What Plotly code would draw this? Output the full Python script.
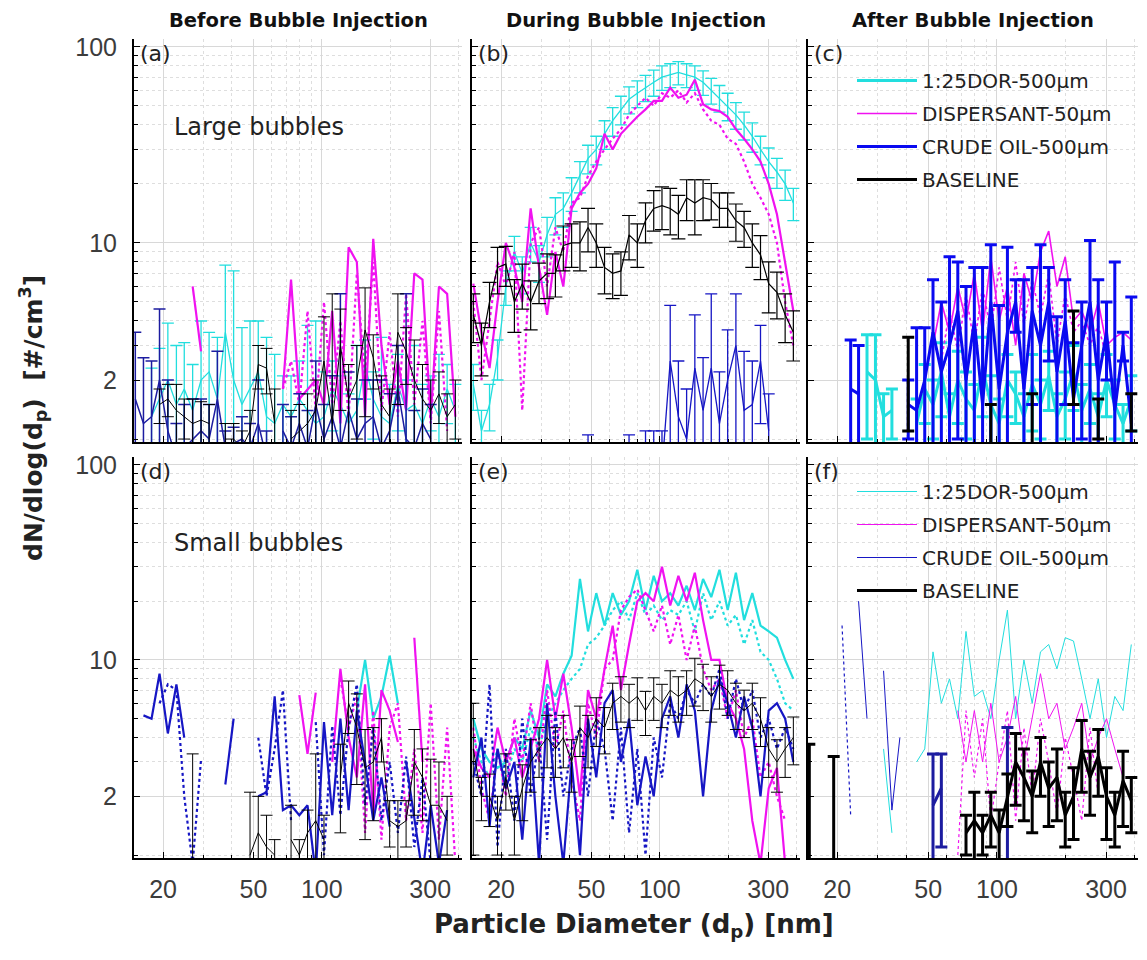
import plotly.graph_objects as go

# Particle diameter bins [nm]
diam = [15.1, 16.4, 17.8, 19.3, 21.0, 22.9, 24.8, 27.0, 29.4, 31.9,
        34.7, 37.6, 40.9, 44.5, 48.3, 52.5, 57.1, 62.0, 67.4, 73.2,
        79.6, 86.5, 94.0, 102.2, 111.1, 120.7, 131.2, 142.6, 155.0, 168.4,
        183.0, 198.9, 216.2, 234.9, 255.3, 277.4, 301.5, 327.7, 356.1, 387.0]

N = None
col_titles = ["Before Bubble Injection", "During Bubble Injection", "After Bubble Injection"]
panel_labels = ["(a)", "(b)", "(c)", "(d)", "(e)", "(f)"]
series_names = ["1:25DOR-500μm", "DISPERSANT-50μm", "CRUDE OIL-500μm", "BASELINE"]
x_ticks = [20, 50, 100, 300]
y_ticks = [2, 10, 100]

# ---------------- (a) before, large bubbles ----------------
a_cyan = [N, N, 1.3, 1.6, 2.0, 1.5, 1.8, 1.4, 2.0, 2.2, 1.6, 3.5, 2.0, 1.5, 1.8, 2.2, 1.3, 1.2, 1.5, 1.3,
          1.6, 1.4, 1.2, 1.3, 1.8, 1.5, 1.2, 1.4, 2.4, 1.6, 1.3, 1.2, 1.9, 1.4, 1.5, 1.2, 1.6, 1.3, 1.8, 1.4]
a_cyan_err = [0, 0, 1.0, 1.3, 1.9, 1.5, 1.3, 1.0, 2.0, 1.3, 1.7, 4.2, 5.2, 2.2, 2.2, 1.8, 2.0, 1.5, 0.6, 0.8,
              0.9, 2.4, 2.8, 0.9, 0.7, 0.6, 0.5, 1.6, 0.8, 0.6, 2.0, 0.7, 0.8, 0.6, 1.5, 0.7, 0.5, 1.4, 0.6, 0.5]
a_mag = [N, N, N, N, N, N, N, 6.0, 2.8, N, N, N, N, N, N, N, N, N, 1.8, 6.5,
         1.6, 1.8, 2.0, 1.5, 4.5, 1.2, 9.5, 8.0, 1.3, 10.5, 3.0, 1.5, 2.5, 1.4, 7.0, 6.5, 1.3, 6.0, 5.5, 1.3]
a_mag_dot = [N, N, N, N, N, N, N, N, N, N, N, N, N, N, N, N, N, N, 1.8, 2.5,
             1.5, 4.5, 1.4, 5.0, 1.5, 4.0, 1.3, 7.0, 2.0, 8.0, 1.4, 3.5, 1.3, 5.5, 1.5, 4.0, 1.2, 4.5, 1.1, N]
a_blue = [1.6, 1.2, 1.3, 2.0, 1.1, 0.8, 0.9, 1.0, 1.1, 1.0, 1.6, 0.9, 0.95, 1.0, 0.9, 1.2, 0.8, N, 1.1, 0.9,
          1.2, 0.9, 1.5, 1.0, 1.3, 0.9, 1.4, 1.0, 1.2, 1.3, 0.9, 1.1, 1.8, 1.0, 0.9, 1.2, 1.0, N, N, N]
a_blue_err = [1.9, 1.4, 1.2, 2.6, 0.9, 0.4, 0.6, 0.6, 0.5, 0.5, 1.2, 0.2, 0.2, 0.3, 0.3, 0.8, 0.3, 0, 0.4, 0.4,
              0.5, 0.5, 1.0, 0.5, 0.8, 4.6, 0.8, 0.6, 0.8, 0.7, 1.1, 0.6, 1.2, 4.5, 0.5, 0.6, 0.5, 0, 0, 0]
a_black = [N, N, N, 1.5, 1.6, 1.4, 1.3, 1.2, 1.25, 1.2, N, 1.0, 1.0, 0.9, 1.1, 2.4, 2.3, 1.2, N, 1.0,
           1.1, 1.2, 1.4, 2.5, 1.2, 3.0, 1.6, 2.0, 3.6, 2.6, 1.5, 1.3, 3.5, 2.8, 2.0, 1.6, 1.4, 1.7, 1.3, 1.5]
a_black_err = [0, 0, 0, 0.3, 0.3, 0.5, 0.3, 0.4, 0.3, 0.3, 0, 0.2, 0.2, 0.2, 0.3, 0.6, 0.6, 0.6, 0, 0.4,
               0.4, 0.5, 0.6, 1.7, 4.3, 1.6, 0.8, 1.0, 2.3, 0.8, 0.6, 0.5, 2.0, 0.9, 1.2, 0.8, 0.6, 0.5, 0.4, 0.5]

# ---------------- (b) during, large bubbles ----------------
b_cyan = [1.9, 1.1, 1.5, 2.6, 6.0, 9.0, 7.0, 10.0, 8.0, 11.0, 14.0, 15.0, 18.0, 22.0, 27.0, 30.0, 36.0, 42.0, 48.0, 54.0,
          58.0, 62.0, 66.0, 70.0, 72.0, 74.0, 72.0, 70.0, 66.0, 60.0, 55.0, 50.0, 45.0, 40.0, 35.0, 30.0, 26.0, 23.0, 20.0, 16.0]
b_cyan_err = [0.5, 0.3, 0.4, 0.6, 1.2, 1.8, 1.5, 2.0, 1.7, 2.5, 3.0, 3.0, 3.5, 4.0, 4.5, 5.0, 6.0, 7.0, 8.0, 8.5,
              9.0, 9.5, 10.0, 10.0, 10.0, 10.0, 10.0, 10.0, 9.5, 9.0, 8.5, 8.0, 7.0, 6.5, 6.0, 5.0, 4.5, 4.0, 3.5, 3.0]
b_mag = [6.2, 3.5, 2.3, 5.0, 10.0, 7.5, 5.0, 15.0, 7.5, 4.3, 9.0, 6.0, 15.0, 18.0, 20.0, 24.0, 36.0, 30.0, 36.0, 40.0,
         44.0, 48.0, 53.0, 53.0, 62.0, 55.0, 57.0, 68.0, 51.0, 48.0, 47.0, 44.0, 38.0, 34.0, 30.0, 26.0, 20.0, 14.0, 8.0, 4.5]
b_mag_dot = [5.0, 2.0, 4.0, 8.0, 6.0, 9.0, 1.4, 10.0, 12.0, 6.0, 12.0, 9.0, 16.0, 17.0, 22.0, 26.0, 30.0, 34.0, 38.0, 45.0,
             50.0, 55.0, 50.0, 58.0, 55.0, 60.0, 52.0, 58.0, 48.0, 42.0, 40.0, 34.0, 32.0, 26.0, 20.0, 17.0, 14.0, 10.0, 5.0, 3.0]
b_blue = [N, N, N, N, N, N, N, N, N, N, N, N, N, N, 0.6, N, N, N, N, 0.6,
          N, 0.7, 0.7, 0.7, 2.5, 1.3, 1.0, 2.3, 1.4, 2.3, 1.2, 2.0, 3.0, 1.4, 1.5, 2.5, 1.1, N, N, N]
b_blue_err = [0, 0, 0, 0, 0, 0, 0, 0, 0, 0, 0, 0, 0, 0, 0.45, 0, 0, 0, 0, 0.45,
              0, 0.4, 0.4, 0.4, 2.3, 1.2, 0.8, 2.0, 1.2, 3.2, 1.0, 1.6, 2.5, 1.4, 1.0, 1.3, 0.6, 0, 0, 0]
b_black = [4.3, 3.0, 5.0, 7.5, 7.8, 5.0, 6.2, 5.0, 6.4, 7.0, 7.0, 9.7, 10.0, 10.0, 12.0, 10.0, 7.5, 7.0, 7.2, 11.0,
           10.0, 13.0, 15.0, 15.5, 15.0, 14.0, 17.0, 16.0, 17.0, 16.6, 15.0, 15.0, 13.0, 12.0, 10.0, 8.7, 6.2, 5.6, 4.3, 3.5]
b_black_err = [1.2, 0.9, 1.3, 2.0, 1.8, 1.5, 1.6, 1.4, 1.5, 1.8, 1.7, 2.5, 2.5, 2.8, 3.0, 2.5, 2.0, 1.8, 1.8, 2.8,
               2.5, 3.0, 3.5, 3.8, 4.0, 3.5, 4.0, 5.0, 4.0, 3.5, 3.0, 3.0, 2.8, 2.5, 2.5, 2.2, 1.8, 1.5, 1.2, 1.0]

# ---------------- (c) after, large bubbles ----------------
c_cyan = [N, N, N, N, N, N, N, 2.2, 2.0, 1.3, 1.4, N, N, 1.2, 1.8, 1.5, 2.2, 1.3, 2.0, 1.6,
          1.4, 2.3, 1.5, 1.2, 2.0, 1.7, 1.3, 1.9, 1.5, 2.1, 1.3, 1.6, 2.2, 1.4, 1.8, 1.3, 2.0, 1.5, 1.2, 1.6]
c_cyan_err = [0, 0, 0, 0, 0, 0, 0, 1.2, 1.4, 0.4, 0.4, 0, 0, 0.4, 0.6, 0.5, 0.9, 0.4, 0.8, 0.6,
              0.5, 1.0, 0.6, 0.4, 0.7, 0.5, 0.4, 0.8, 0.5, 0.7, 0.4, 0.6, 0.8, 0.5, 0.6, 0.4, 0.7, 0.5, 0.3, 0.5]
c_mag = [N, N, N, N, N, N, N, N, N, N, N, N, N, N, N, 3.0, 5.0, 3.5, 6.0, 4.0,
         7.0, 3.5, 8.5, 4.0, 6.0, 3.0, 7.0, 5.0, 9.0, 11.5, 6.0, 8.5, 4.0, 4.5, 3.5, 5.0, 3.0, 3.3, 3.5, 3.2]
c_mag_dot = [N, N, N, N, N, N, N, N, N, N, N, N, N, N, N, N, 2.5, 4.5, 2.8, 5.5,
             3.0, 6.0, 3.5, 7.5, 4.0, 8.0, 3.8, 6.5, 4.2, 7.0, 3.0, 5.5, 3.5, 4.0, 3.0, 3.8, 2.6, N, N, N]
c_blue = [N, N, N, N, N, 1.8, 1.7, N, N, N, N, N, 1.5, 1.4, 2.0, 3.5, 2.2, 3.0, 4.5, 2.0,
          4.0, 1.5, 5.0, 1.8, 3.5, 5.0, 1.8, 4.5, 3.0, 5.0, 2.2, 4.0, 1.6, 3.0, 5.0, 2.0, 3.5, 1.4, 3.0, 1.2]
c_blue_err = [0, 0, 0, 0, 0, 1.4, 1.3, 0, 0, 0, 0, 0, 0.5, 2.3, 1.7, 3.0, 2.8, 5.5, 3.5, 4.0,
              3.5, 6.0, 4.8, 3.0, 6.0, 1.5, 4.7, 3.0, 6.8, 2.5, 2.0, 2.5, 1.5, 2.0, 5.3, 4.5, 1.5, 6.6, 0.5, 4.1]
c_black = [N, N, N, N, N, N, N, N, N, N, N, N, 2.2, N, N, N, N, N, N, N,
           N, N, 1.2, N, N, N, N, 1.3, N, N, N, N, 3.0, N, N, 1.3, N, N, N, 1.4]
c_black_err = [0, 0, 0, 0, 0, 0, 0, 0, 0, 0, 0, 0, 1.1, 0, 0, 0, 0, 0, 0, 0,
               0, 0, 0.3, 0, 0, 0, 0, 0.4, 0, 0, 0, 0, 1.5, 0, 0, 0.3, 0, 0, 0, 0.3]

# ---------------- (d) before, small bubbles ----------------
d_cyan = [N, N, N, N, N, N, N, N, N, N, N, N, N, N, N, N, N, N, N, N,
          N, N, N, N, N, N, N, 5.5, 10.0, 5.0, 6.5, 10.5, 6.0, N, N, N, N, N, N, N]
d_mag = [N, N, N, N, N, N, N, N, N, N, N, N, N, N, N, N, N, N, N, N,
         6.6, 3.3, 6.8, N, 3.0, 9.0, 4.0, 2.5, 7.5, 1.6, 7.0, 5.5, 3.8, N, 13.0, 3.0, N, N, N, N]
d_mag_dot = [N, N, N, N, N, N, N, N, N, N, N, N, N, N, N, N, N, N, N, N,
             N, N, N, N, N, 8.0, 4.5, 6.5, 1.3, 5.5, 1.2, 4.5, 6.0, 1.5, 3.5, 1.3, 6.0, 1.2, 4.5, 0.9]
d_blue = [N, 5.2, 5.0, 8.5, 4.2, 7.5, 4.0, N, N, N, N, 2.3, 5.0, N, N, 2.0, 2.1, 6.5, 1.7, 1.8,
          1.6, 1.8, 0.8, 4.8, 1.6, 5.0, 1.7, 5.5, 3.0, 1.5, 2.5, 1.4, N, 3.0, 1.5, 0.8, 1.8, 0.9, 1.7, N]
d_blue_dot = [N, N, N, 6.0, 7.5, 7.0, 2.0, 0.9, 3.1, N, N, N, N, N, N, 4.0, 2.0, 3.5, 7.0, 1.5,
              N, N, 4.8, 1.0, 4.6, 1.6, 4.5, 7.5, 1.8, 4.5, 1.5, 3.0, 1.3, 3.2, 1.1, 2.5, 0.9, N, N, N]
d_black = [N, N, N, N, N, N, N, 1.0, N, N, N, N, N, N, 1.0, 1.3, 1.1, 1.0, N, 1.2,
           1.0, 1.3, 1.5, 1.2, N, 2.5, 6.0, 4.5, 2.8, 3.0, 4.0, 1.5, 1.4, 1.5, 3.0, 2.5, 1.8, 1.8, 1.5, N]
d_black_err = [0, 0, 0, 0, 0, 0, 0, 2.3, 0, 0, 0, 0, 0, 0, 1.1, 0.7, 0.5, 0.2, 0, 0.6,
               0.2, 0.4, 1.8, 0.4, 0, 1.2, 1.8, 2.2, 1.6, 1.5, 1.0, 0.4, 0.5, 0.4, 1.4, 1.0, 1.3, 1.2, 0.5, 0]

# ---------------- (e) during, small bubbles ----------------
e_cyan = [5.0, 3.5, 3.0, 2.8, 3.0, 4.0, 3.5, 5.5, 4.0, 7.5, 6.5, 8.5, 10.5, 26.0, 14.0, 22.0, 15.0, 22.0, 17.0, 20.0,
          29.0, 18.0, 27.0, 20.0, 22.0, 19.0, 24.0, 18.0, 26.0, 21.0, 29.0, 18.0, 28.0, 16.0, 22.0, 15.0, 14.0, 13.0, 10.0, 8.0]
e_cyan_dot = [4.0, 3.0, 2.5, 3.5, 2.5, 3.5, 3.0, 4.5, 3.5, 5.0, 6.0, 7.0, 8.0, 9.0, 12.0, 13.0, 15.0, 18.0, 20.0, 16.0,
              22.0, 17.0, 19.0, 16.0, 18.0, 17.0, 20.0, 14.0, 22.0, 16.0, 20.0, 15.0, 17.0, 12.0, 16.0, 11.0, 10.0, 8.0, 6.0, 5.5]
e_mag = [3.5, 2.8, 2.5, 4.5, 3.0, 4.0, 2.5, 3.5, 5.0, 10.0, 5.0, 8.5, 4.5, 2.0, 7.0, 5.0, 9.0, 15.0, 7.0, 12.0,
         20.0, 22.0, 20.0, 30.0, 19.0, 27.0, 20.0, 28.0, 16.0, 10.0, 10.0, 6.0, 5.0, 3.5, 1.5, 0.9, 2.2, 2.8, 0.9, N]
e_mag_dot = [4.5, 2.2, 1.5, 3.5, 2.0, 5.0, 3.0, 6.0, 3.0, 7.0, 3.5, 5.5, 2.5, 1.5, 6.0, 4.0, 9.0, 10.0, 18.0, 21.0,
             23.0, 18.0, 14.0, 19.0, 12.0, 17.0, 10.0, 15.0, 9.0, 7.0, 8.0, 5.0, 7.0, 4.0, 5.0, 2.5, 3.0, 2.0, 1.5, N]
e_blue = [2.5, 4.0, 1.4, 3.5, 2.2, 3.0, 1.2, 4.0, 0.9, 6.0, 2.0, 0.9, 3.0, 1.0, 5.0, 2.5, 6.0, 7.0, 3.0, 5.0,
          1.8, 3.2, 2.0, 5.0, 6.5, 4.0, 7.5, 5.5, 2.0, 5.5, 8.0, 6.0, 4.0, 6.5, 4.5, 2.0, 5.5, 6.0, 5.0, 3.0]
e_blue_dot = [3.0, 2.0, 7.5, 1.1, 3.5, 1.5, 5.0, 2.0, 4.0, 1.2, 5.5, 2.0, 3.5, 4.5, 2.0, 5.0, 3.5, 1.5, 4.5, 1.3,
              3.5, 1.0, 4.0, 2.5, 6.0, 5.0, 7.0, 6.0, 7.5, 6.5, 9.0, 5.0, 8.0, 5.5, 7.0, 4.0, 5.0, 3.5, 4.5, 3.5]
e_black = [3.5, 2.0, 2.0, 1.5, 2.5, 1.5, 2.2, 3.0, 3.5, 4.0, 3.5, 4.0, 3.0, 4.5, 4.0, 5.0, 4.5, 6.0, 6.5, 6.0,
           6.5, 5.5, 6.5, 6.0, 7.0, 6.5, 7.0, 8.0, 7.5, 6.5, 7.5, 7.0, 6.0, 5.5, 6.0, 5.0, 3.5, 3.0, 3.5, 4.0]
e_black_err = [2.5, 0.5, 0.6, 0.5, 0.8, 0.5, 0.7, 0.9, 1.0, 1.2, 1.0, 1.2, 0.9, 1.3, 1.2, 1.4, 1.2, 1.6, 1.7, 1.5,
               1.6, 1.4, 1.6, 1.5, 1.8, 1.7, 1.8, 2.2, 2.0, 1.7, 1.9, 1.8, 1.6, 1.5, 1.6, 1.4, 1.0, 0.9, 1.0, 1.1]

# ---------------- (f) after, small bubbles ----------------
f_cyan = [N, N, N, N, N, N, N, N, N, 3.5, 1.3, N, N, 3.0, 3.5, 11.0, 6.0, 8.0, 5.0, 14.0,
          6.5, 7.0, 5.0, 10.0, 18.0, 5.0, 10.0, 6.0, 11.0, 12.0, 9.0, 13.0, 12.5, 8.0, 5.0, 8.0, 4.0, 6.5, 5.5, 12.0]
f_mag = [N, N, N, N, N, N, N, N, N, N, N, N, N, N, N, N, N, N, 5.5, 3.0,
         5.5, 3.0, 6.0, 3.0, 4.0, 6.5, 3.0, 5.0, 8.5, 5.0, 6.0, 3.5, 4.5, 6.0, 3.0, 4.0, 5.0, 3.5, 2.5, N]
f_mag_dot = [N, N, N, N, N, N, N, N, N, N, N, N, N, N, N, N, N, N, 1.0, 5.5,
             2.5, 5.0, 1.5, 3.0, 5.5, 1.5, 4.5, 2.0, 5.0, 3.0, 1.6, 4.0, 2.5, 1.5, 4.5, 2.0, N, N, N, N]
f_blue = [N, N, N, N, N, N, 20.0, 5.0, N, 8.8, 1.7, 4.0, N, N, N, N, N, N, N, N,
          N, N, N, N, N, N, N, N, N, N, N, N, N, N, N, N, N, N, N, N]
f_blue_dot = [N, N, N, N, 15.0, 1.6, N, N, N, N, N, N, N, N, N, N, N, N, N, N,
              N, N, N, N, N, N, N, N, N, N, N, N, N, N, N, N, N, N, N, N]
f_blue_bar = [N, N, N, N, N, N, N, N, N, N, N, N, N, N, N, 1.8, 2.2, N, N, N,
              N, N, N, N, 2.5, N, N, N, N, N, N, N, N, N, N, N, N, N, N, N]
f_blue_bar_err = [0, 0, 0, 0, 0, 0, 0, 0, 0, 0, 0, 0, 0, 0, 0, 1.5, 1.1, 0, 0, 0,
                  0, 0, 0, 0, 2.0, 0, 0, 0, 0, 0, 0, 0, 0, 0, 0, 0, 0, 0, 0, 0]
f_black = [2.2, N, N, 1.9, N, N, N, N, N, N, N, N, N, N, N, N, N, N, N, 1.3,
           1.5, 1.3, 1.6, 1.3, 2.0, 3.0, 2.5, 2.0, 3.0, 2.2, 2.5, 1.6, 2.0, 3.5, 2.5, 3.2, 2.0, 1.6, 2.4, 1.9]
f_black_err = [1.5, 0, 0, 1.3, 0, 0, 0, 0, 0, 0, 0, 0, 0, 0, 0, 0, 0, 0, 0, 0.3,
               0.6, 0.3, 0.5, 0.4, 0.6, 1.2, 1.0, 0.7, 1.0, 0.8, 1.0, 0.5, 0.8, 1.4, 0.9, 1.2, 0.8, 0.5, 1.0, 0.6]

# ---------------- styling ----------------
CYAN = "#22dede"
MAG = "#f012f0"
BLUE = "#1616c4"
BLUE_C = "#0a0af0"
NAVY = "#1c1ca0"
BLACK = "#000000"
FONT = "Liberation Sans, Arial, sans-serif"
WIDE = "DejaVu Sans, sans-serif"

fig = go.Figure()


def add(ax, y, color, width, dash="solid", err=None, cap=6, ethick=None,
        legend=None, name=None, group=None):
    tr = dict(x=diam, y=y, mode="lines", xaxis="x" + ax, yaxis="y" + ax,
              line=dict(color=color, width=width, dash=dash),
              connectgaps=False, hoverinfo="skip", showlegend=False)
    if err is not None:
        lo = [0 if v is None else min(e, v * 0.97) for v, e in zip(y, err)]
        tr["error_y"] = dict(type="data", array=err, arrayminus=lo, visible=True,
                             color=color, thickness=ethick or width, width=cap)
    if legend is not None:
        tr.update(showlegend=True, legend=legend, name=name, legendgroup=group)
    fig.add_trace(go.Scatter(**tr))


# (a)
add("", a_cyan, CYAN, 1.3, err=a_cyan_err, cap=6)
add("", a_mag_dot, MAG, 2.2, dash="dot")
add("", a_mag, MAG, 2.2)
add("", a_blue, NAVY, 1.5, err=a_blue_err, cap=6)
add("", a_black, BLACK, 1.0, err=a_black_err, cap=6)
# (b)
add("2", b_cyan, CYAN, 1.3, err=b_cyan_err, cap=6)
add("2", b_mag_dot, MAG, 2.2, dash="dot")
add("2", b_mag, MAG, 2.2)
add("2", b_blue, BLUE, 1.3, err=b_blue_err, cap=6)
add("2", b_black, BLACK, 1.2, err=b_black_err, cap=7)
# (c)
add("3", c_cyan, CYAN, 3.0, err=c_cyan_err, cap=6,
    legend="legend", name=series_names[0], group="c1")
add("3", c_mag_dot, MAG, 1.6, dash="dot")
add("3", c_mag, MAG, 1.6, legend="legend", name=series_names[1], group="c2")
add("3", c_blue, BLUE_C, 3.0, err=c_blue_err, cap=6,
    legend="legend", name=series_names[2], group="c3")
add("3", c_black, BLACK, 3.0, err=c_black_err, cap=6,
    legend="legend", name=series_names[3], group="c4")
# (d)
add("4", d_cyan, CYAN, 2.2)
add("4", d_mag_dot, MAG, 2.2, dash="dot")
add("4", d_mag, MAG, 2.2)
add("4", d_blue_dot, BLUE, 2.2, dash="dot")
add("4", d_blue, BLUE, 2.2)
add("4", d_black, BLACK, 1.0, err=d_black_err, cap=6)
# (e)
add("5", e_cyan_dot, CYAN, 2.2, dash="dot")
add("5", e_cyan, CYAN, 2.2)
add("5", e_mag_dot, MAG, 2.2, dash="dot")
add("5", e_mag, MAG, 2.2)
add("5", e_blue_dot, BLUE, 2.2, dash="dot")
add("5", e_blue, BLUE, 2.2)
add("5", e_black, BLACK, 1.0, err=e_black_err, cap=6)
# (f)
add("6", f_cyan, CYAN, 1.0, legend="legend2", name=series_names[0], group="f1")
add("6", f_mag_dot, MAG, 1.2, dash="dot")
add("6", f_mag, MAG, 1.0, legend="legend2", name=series_names[1], group="f2")
add("6", f_blue_dot, BLUE, 1.2, dash="dot")
add("6", f_blue, BLUE, 1.0, legend="legend2", name=series_names[2], group="f3")
add("6", f_blue_bar, NAVY, 3.0, err=f_blue_bar_err, cap=6)
add("6", f_black, BLACK, 3.0, err=f_black_err, cap=6,
    legend="legend2", name=series_names[3], group="f4")

# ---------------- layout ----------------
# page body adds an 8px offset; target plot area on screen: x 134..1138, y 39..858
OFF = 8
SX0, SX1, SY0, SY1 = 134, 1138, 39, 858
W, H = 1147, 960
L, T = SX0 - OFF, SY0 - OFF
R, B = W - (SX1 - OFF), H - (SY1 - OFF)
pw, ph = SX1 - SX0, SY1 - SY0


def px(sx):
    return (sx - SX0) / pw


def py(sy):
    return 1 - (sy - SY0) / ph


xdoms = [(0, 328 / pw), (338 / pw, 666 / pw), (674 / pw, 1.0)]
ydoms = [(1 - 403 / ph, 1.0), (0.0, 401 / ph)]

xminor = [20, 30, 40, 50, 60, 70, 80, 90, 100, 200, 300, 400]
yminor = [1, 2, 3, 4, 5, 6, 7, 8, 9, 20, 30, 40, 50, 60, 70, 80, 90]
GRID = "#d8d8d8"
TICKC = "#3c3c3c"

layout = dict(
    width=W, height=H, margin=dict(l=L, r=R, t=T, b=B),
    paper_bgcolor="white", plot_bgcolor="white",
    font=dict(family=FONT, color="#222222"),
)

for i in range(6):
    r, c = divmod(i, 3)
    suf = "" if i == 0 else str(i + 1)
    layout["xaxis" + suf] = dict(
        type="log", range=[1.1732, 2.617], domain=xdoms[c],
        anchor="y" + suf, tickvals=x_ticks, ticktext=[str(v) for v in x_ticks],
        showticklabels=(r == 1), ticks="inside", ticklen=6, tickwidth=1.2,
        tickcolor="black", tickfont=dict(size=25, color=TICKC, family=FONT),
        ticklabelstandoff=8,
        showline=True, linecolor="black", linewidth=2, mirror=False,
        showgrid=True, gridcolor=GRID, gridwidth=1, zeroline=False,
        minor=dict(tickvals=xminor, ticks="inside", ticklen=3, tickcolor="black",
                   showgrid=True, gridcolor="#dedede", griddash="dot", gridwidth=1),
    )
    layout["yaxis" + suf] = dict(
        type="log", range=[-0.015, 2.04], domain=ydoms[r],
        anchor="x" + suf, tickvals=y_ticks, ticktext=[str(v) for v in y_ticks],
        showticklabels=(c == 0), ticks="inside", ticklen=6, tickwidth=1.2,
        tickcolor="black", tickfont=dict(size=25, color=TICKC, family=FONT),
        ticklabelstandoff=10,
        showline=True, linecolor="black", linewidth=2, mirror=False,
        showgrid=True, gridcolor=GRID, gridwidth=1, zeroline=False,
        minor=dict(tickvals=yminor, ticks="inside", ticklen=4, tickcolor="black",
                   showgrid=True, gridcolor="#dedede", griddash="dot", gridwidth=1),
    )

legend_common = dict(
    font=dict(size=20, family=WIDE, color="#222222"),
    bgcolor="rgba(0,0,0,0)", borderwidth=0, itemwidth=60,
    tracegroupgap=4, traceorder="grouped", xanchor="left", yanchor="top",
    itemclick=False, itemdoubleclick=False,
)
layout["legend"] = dict(legend_common, x=px(852), y=py(61))
layout["legend2"] = dict(legend_common, x=px(852), y=py(472))

annotations = []
for c in range(3):
    annotations.append(dict(
        text="<b>" + col_titles[c] + "</b>", xref="paper", yref="paper",
        x=(xdoms[c][0] + xdoms[c][1]) / 2, y=py(20), xanchor="center",
        yanchor="middle", showarrow=False,
        font=dict(size=19.5, family=WIDE, color="#111111")))
for i in range(6):
    suf = "" if i == 0 else str(i + 1)
    annotations.append(dict(
        text=panel_labels[i], xref="x" + suf + " domain", yref="y" + suf + " domain",
        x=0.012, y=1.0, xanchor="left", yanchor="top", showarrow=False,
        font=dict(size=22, family=WIDE, color="#222222")))
annotations.append(dict(text="Large bubbles", xref="x domain", yref="y domain",
                        x=0.115, y=0.782, xanchor="left", yanchor="middle",
                        showarrow=False, font=dict(size=24, family=WIDE, color="#222222")))
annotations.append(dict(text="Small bubbles", xref="x4 domain", yref="y4 domain",
                        x=0.115, y=0.786, xanchor="left", yanchor="middle",
                        showarrow=False, font=dict(size=24, family=WIDE, color="#222222")))
annotations.append(dict(
    text="<b>dN/dlog(d<sub>p</sub>)  [#/cm<sup>3</sup>]</b>", xref="paper", yref="paper",
    x=px(33), y=py(418), xanchor="center", yanchor="middle",
    textangle=-90, showarrow=False, font=dict(size=25, family=WIDE, color="#222222")))
annotations.append(dict(
    text="<b>Particle Diameter (d<sub>p</sub>) [nm]</b>", xref="paper", yref="paper",
    x=px(634), y=py(925), xanchor="center", yanchor="middle",
    showarrow=False, font=dict(size=26, family=WIDE, color="#222222")))
layout["annotations"] = annotations

fig.update_layout(**layout)
fig.write_html("out.html")
